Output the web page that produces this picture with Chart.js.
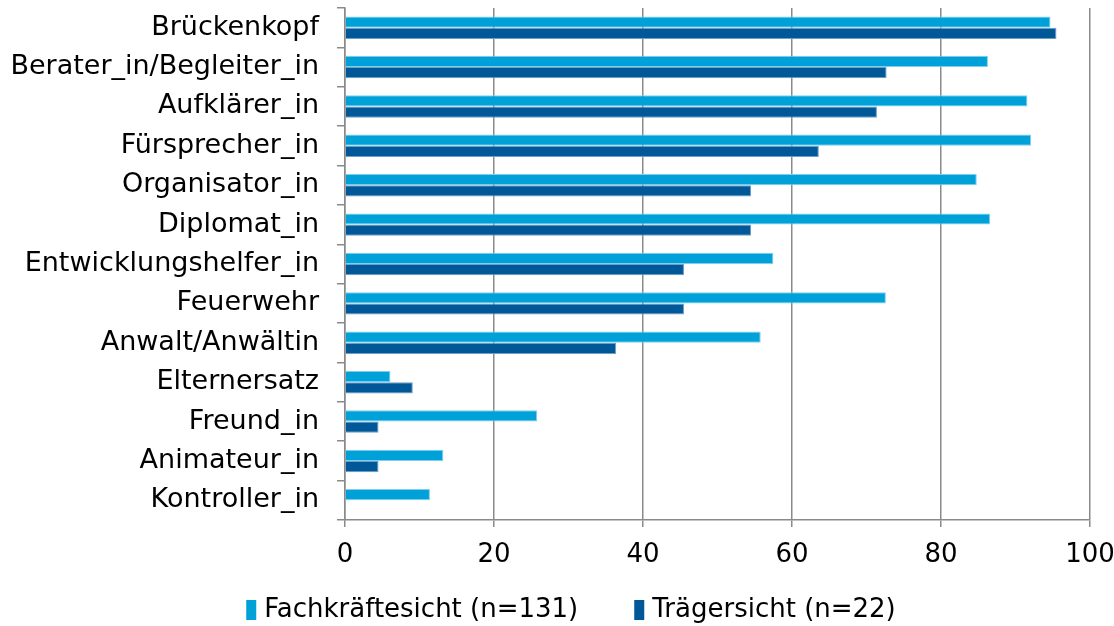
<!DOCTYPE html>
<html>
<head>
<meta charset="utf-8">
<script src="https://cdn.jsdelivr.net/npm/chart.js@4/dist/chart.umd.min.js"></script>
<style>
  html, body { margin: 0; padding: 0; background: #fff; }
  #wrap { width: 1114px; height: 626px; position: relative; }
</style>
</head>
<body>
<div id="wrap"><canvas id="chart"></canvas></div>
<script>
// Categories (top to bottom)
const categories = [
    'Brückenkopf', 'Berater_in/Begleiter_in', 'Aufklärer_in', 'Fürsprecher_in',
    'Organisator_in', 'Diplomat_in', 'Entwicklungshelfer_in', 'Feuerwehr',
    'Anwalt/Anwältin', 'Elternersatz', 'Freund_in', 'Animateur_in', 'Kontroller_in'
];

// Series values (percent)
const fachkraefte = [94.7, 86.3, 91.6, 92.1, 84.8, 86.6, 57.5, 72.6, 55.8, 6.1, 25.8, 13.2, 11.4];
const traeger = [95.5, 72.7, 71.4, 63.6, 54.5, 54.5, 45.5, 45.5, 36.4, 9.1, 4.5, 4.5, 0];

const seriesLabels = ['Fachkräftesicht (n=131)', 'Trägersicht (n=22)'];
const xTicks = [0, 20, 40, 60, 80, 100];

const fontFamily = '"DejaVu Sans", Verdana, sans-serif';

// Legend drawn below the plot (boxes are narrow, items spaced wide)
const bottomLegend = {
    id: 'bottomLegend',
    afterDraw(chart) {
        const c = chart.ctx;
        const items = chart.data.datasets.map(ds => ({ text: ds.label, color: ds.backgroundColor }));
        const boxW = 10, boxH = 20, textGap = 8, itemGap = 56;
        c.save();
        c.font = '26px ' + fontFamily;
        c.textBaseline = 'middle';
        c.textAlign = 'left';
        const widths = items.map(it => boxW + textGap + c.measureText(it.text).width);
        const total = widths.reduce((a, b) => a + b, 0) + itemGap * (items.length - 1);
        let x = chart.width / 2 + 14 - total / 2;
        const y = 610;
        items.forEach((it, i) => {
            c.fillStyle = it.color;
            c.fillRect(x, y - boxH / 2, boxW, boxH);
            c.fillStyle = '#000';
            c.fillText(it.text, x + boxW + textGap, y);
            x += widths[i] + itemGap;
        });
        c.restore();
    }
};

const ctx = document.getElementById('chart').getContext('2d');
new Chart(ctx, {
    type: 'bar',
    data: {
        labels: categories,
        datasets: [{
            label: seriesLabels[0],
            data: fachkraefte,
            backgroundColor: '#00A1D9',
            borderColor: '#7FCFEC',
            borderWidth: 1,
            categoryPercentage: 0.57,
            barPercentage: 1.0
        }, {
            label: seriesLabels[1],
            data: traeger,
            backgroundColor: '#005899',
            borderColor: '#6F9DC4',
            borderWidth: 1,
            categoryPercentage: 0.57,
            barPercentage: 1.0
        }]
    },
    options: {
        indexAxis: 'y',
        responsive: true,
        maintainAspectRatio: false,
        animation: false,
        layout: { padding: { top: 8, right: 24, left: 0, bottom: 50 } },
        plugins: {
            legend: { display: false },
            tooltip: { enabled: false }
        },
        scales: {
            x: {
                min: 0,
                max: 100,
                afterBuildTicks: axis => {
                    axis.ticks = xTicks.map(v => ({ value: v }));
                },
                grid: {
                    color: '#8A8A8A',
                    lineWidth: 1.5,
                    drawTicks: true,
                    tickLength: 7
                },
                border: { color: '#8A8A8A', width: 1.5 },
                ticks: {
                    color: '#000',
                    padding: 13,
                    font: { family: fontFamily, size: 26 }
                },
                afterFit: axis => {
                    axis.height = 56;
                    axis.paddingRight = 0;
                    axis.paddingLeft = 0;
                }
            },
            y: {
                grid: {
                    drawOnChartArea: false,
                    drawTicks: true,
                    tickLength: 8,
                    color: '#8A8A8A',
                    lineWidth: 1.5,
                    offset: true
                },
                border: { color: '#8A8A8A', width: 1.5 },
                ticks: {
                    color: '#000',
                    padding: 18,
                    font: { family: fontFamily, size: 27 }
                },
                afterFit: axis => {
                    axis.width = 345;
                    axis.paddingTop = 0;
                    axis.paddingBottom = 0;
                }
            }
        }
    },
    plugins: [bottomLegend]
});
</script>
</body>
</html>
